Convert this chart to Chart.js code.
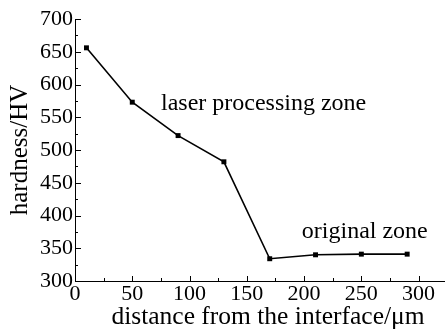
<!DOCTYPE html>
<html><head><meta charset="utf-8">
<script src="https://cdn.jsdelivr.net/npm/chart.js@4.4.0/dist/chart.umd.min.js"></script>
<style>html,body{margin:0;padding:0;background:#fff;overflow:hidden}#wrap{width:445px;height:329px;overflow:hidden}</style>
</head><body><div id="wrap"><canvas id="c" width="465" height="329"></canvas></div>
<script>
const distances = [10, 50, 90, 130, 170, 210, 250, 290];
const hardness = [656, 573, 522, 482, 334, 340, 341, 341];
const xTickValues = [0, 50, 100, 150, 200, 250, 300];
const yTickValues = [300, 350, 400, 450, 500, 550, 600, 650, 700];
const xTitle = 'distance from the interface/\u03bcm';
const yTitle = 'hardness/HV';
const notes = [
  {text: 'laser processing zone', x: 164.7, y: 561},
  {text: 'original zone', x: 253, y: 365}
];
const FONT = '"Liberation Serif", "Times New Roman", serif';

const tickPlugin = {
  id: 'ticksAndNotes',
  afterDraw(chart) {
    const {ctx, scales: {x, y}} = chart;
    ctx.save();
    ctx.strokeStyle = '#000';
    ctx.lineWidth = 1;
    ctx.beginPath();
    for (let v = 0; v <= 300; v += 25) {
      const px = Math.round(x.getPixelForValue(v)) + 0.5;
      const len = v % 50 === 0 ? 5 : 3;
      ctx.moveTo(px, y.bottom);
      ctx.lineTo(px, y.bottom - len);
    }
    for (let v = 300; v <= 700; v += 25) {
      const py = Math.round(y.getPixelForValue(v)) + 0.5;
      const len = v % 50 === 0 ? 6 : 3;
      ctx.moveTo(x.left, py);
      ctx.lineTo(x.left + len, py);
    }
    ctx.stroke();
    ctx.fillStyle = '#000';
    ctx.font = '24px ' + FONT;
    ctx.textAlign = 'center';
    ctx.textBaseline = 'alphabetic';
    notes.forEach(n => ctx.fillText(n.text, x.getPixelForValue(n.x), y.getPixelForValue(n.y)));
    ctx.restore();
  }
};

new Chart(document.getElementById('c'), {
  type: 'line',
  data: {
    datasets: [{
      data: distances.map((d, i) => ({x: d, y: hardness[i]})),
      borderColor: '#000',
      backgroundColor: '#000',
      borderWidth: 1.6,
      pointStyle: 'rect',
      pointRadius: 3.5,
      pointBorderWidth: 0,
      tension: 0
    }]
  },
  options: {
    responsive: false,
    animation: false,
    devicePixelRatio: 1,
    layout: {padding: {top: 19, right: 0, left: 0, bottom: 0}},
    plugins: {legend: {display: false}, tooltip: {enabled: false}},
    scales: {
      x: {
        type: 'linear', min: 0, max: 337,
        afterBuildTicks: s => { s.ticks = xTickValues.map(v => ({value: v})); },
        afterFit: s => { s.height = 48; },
        grid: {display: false, drawTicks: false},
        border: {display: true, color: '#000', width: 1},
        ticks: {color: '#000', font: {family: FONT, size: 22}, padding: 0, maxRotation: 0, autoSkip: false},
        title: {display: true, text: xTitle, color: '#000', font: {family: FONT, size: 25.5}, padding: {top: 0, bottom: -4}}
      },
      y: {
        type: 'linear', min: 300, max: 700,
        afterBuildTicks: s => { s.ticks = yTickValues.map(v => ({value: v})); },
        afterFit: s => { s.width = 75; },
        grid: {display: false, drawTicks: false},
        border: {display: true, color: '#000', width: 1},
        ticks: {color: '#000', font: {family: FONT, size: 22}, padding: 2, autoSkip: false},
        title: {display: true, text: yTitle, color: '#000', font: {family: FONT, size: 25}, padding: {top: 5, bottom: 0}}
      }
    }
  },
  plugins: [tickPlugin]
});
</script></body></html>
